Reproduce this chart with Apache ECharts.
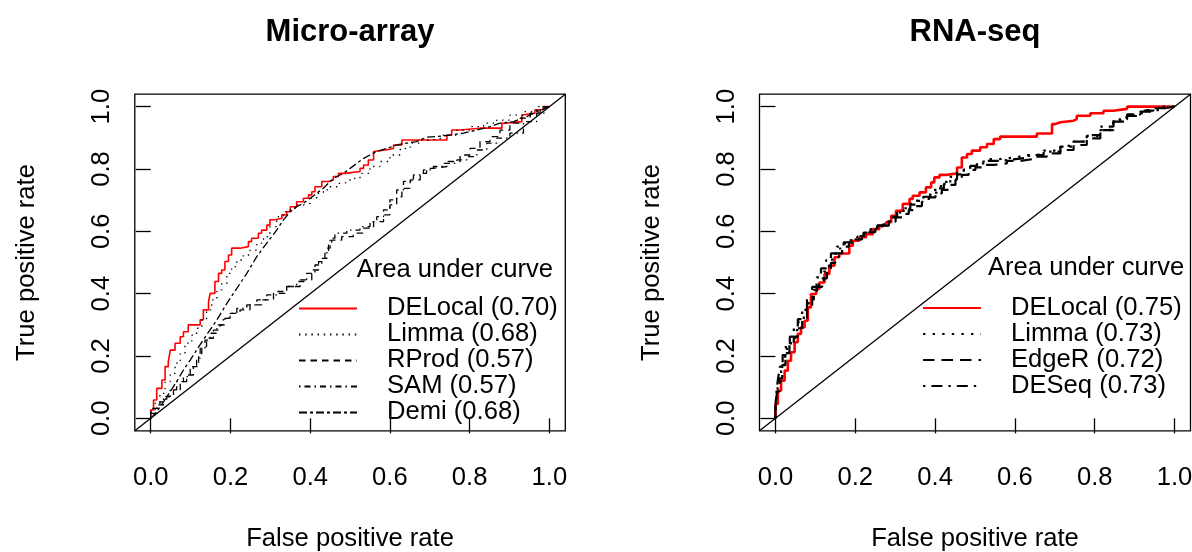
<!DOCTYPE html>
<html>
<head>
<meta charset="utf-8">
<script src="https://cdn.jsdelivr.net/npm/echarts@6/dist/echarts.min.js"></script>
<style>
html, body { margin: 0; padding: 0; background: #fff; }
#chart { width: 1192px; height: 552px; }
</style>
</head>
<body>
<div id="chart"></div>
<script>
// ---- axis settings -------------------------------------------------------
const axisTicks = [0, 0.2, 0.4, 0.6, 0.8, 1.0];
const axisRange = [-0.04, 1.04];
const panelTitles = ['Micro-array', 'RNA-seq'];
const xAxisName = 'False positive rate';
const yAxisName = 'True positive rate';
const legendHeading = 'Area under curve';

// ---- Micro-array ROC curves: [false positive rate, true positive rate] ----
const microDELocal = [[0,0],[0.007,0.027],[0.015,0.059],[0.028,0.096],[0.036,0.123],[0.044,0.166],[0.049,0.182],[0.061,0.219],[0.074,0.241],[0.082,0.262],[0.094,0.278],[0.107,0.300],[0.124,0.300],[0.132,0.316],[0.145,0.348],[0.149,0.374],[0.161,0.401],[0.170,0.439],[0.178,0.465],[0.186,0.476],[0.195,0.503],[0.203,0.524],[0.224,0.546],[0.245,0.551],[0.253,0.567],[0.270,0.578],[0.278,0.594],[0.291,0.604],[0.299,0.620],[0.312,0.637],[0.329,0.642],[0.341,0.653],[0.350,0.663],[0.366,0.679],[0.383,0.695],[0.396,0.706],[0.404,0.717],[0.412,0.727],[0.429,0.743],[0.446,0.760],[0.458,0.765],[0.471,0.776],[0.488,0.786],[0.525,0.792],[0.534,0.802],[0.546,0.813],[0.559,0.829],[0.563,0.856],[0.588,0.861],[0.609,0.866],[0.630,0.877],[0.667,0.893],[0.743,0.893],[0.755,0.909],[0.776,0.925],[0.826,0.931],[0.881,0.931],[0.889,0.947],[0.931,0.952],[0.935,0.973],[0.964,0.979],[0.985,0.990],[1,1]];

const microLimma = [[0,0],[0.011,0.021],[0.023,0.048],[0.036,0.080],[0.049,0.118],[0.061,0.144],[0.074,0.177],[0.086,0.209],[0.103,0.241],[0.115,0.267],[0.128,0.289],[0.140,0.316],[0.153,0.348],[0.166,0.380],[0.178,0.412],[0.191,0.433],[0.203,0.465],[0.216,0.487],[0.232,0.508],[0.249,0.524],[0.266,0.540],[0.283,0.562],[0.299,0.583],[0.316,0.615],[0.333,0.647],[0.350,0.663],[0.366,0.674],[0.383,0.685],[0.400,0.690],[0.416,0.706],[0.433,0.722],[0.450,0.733],[0.467,0.743],[0.483,0.754],[0.500,0.760],[0.525,0.770],[0.550,0.786],[0.575,0.808],[0.600,0.824],[0.626,0.845],[0.651,0.866],[0.676,0.883],[0.701,0.893],[0.734,0.899],[0.768,0.909],[0.801,0.925],[0.835,0.936],[0.868,0.947],[0.901,0.957],[0.935,0.973],[0.968,0.984],[1,1]];

const microRProd = [[0,0],[0.023,0.032],[0.040,0.053],[0.057,0.070],[0.074,0.091],[0.090,0.118],[0.107,0.139],[0.120,0.166],[0.128,0.198],[0.140,0.230],[0.157,0.257],[0.174,0.283],[0.186,0.300],[0.199,0.321],[0.224,0.337],[0.249,0.348],[0.278,0.364],[0.308,0.380],[0.341,0.401],[0.375,0.423],[0.404,0.444],[0.421,0.476],[0.437,0.503],[0.446,0.530],[0.454,0.562],[0.479,0.572],[0.508,0.583],[0.534,0.594],[0.559,0.610],[0.584,0.631],[0.600,0.653],[0.617,0.685],[0.630,0.711],[0.651,0.738],[0.676,0.765],[0.692,0.786],[0.709,0.802],[0.743,0.808],[0.776,0.824],[0.801,0.845],[0.826,0.866],[0.851,0.888],[0.876,0.904],[0.901,0.925],[0.927,0.947],[0.952,0.963],[0.977,0.979],[1,1]];

const microSAM = [[0,0],[0.015,0.016],[0.032,0.043],[0.049,0.070],[0.065,0.091],[0.082,0.118],[0.099,0.134],[0.115,0.166],[0.124,0.193],[0.136,0.225],[0.149,0.251],[0.166,0.273],[0.182,0.300],[0.199,0.321],[0.216,0.337],[0.241,0.353],[0.266,0.364],[0.291,0.380],[0.316,0.396],[0.341,0.407],[0.366,0.423],[0.391,0.439],[0.412,0.465],[0.429,0.492],[0.442,0.513],[0.450,0.546],[0.462,0.578],[0.492,0.594],[0.525,0.604],[0.550,0.615],[0.567,0.631],[0.584,0.647],[0.600,0.669],[0.617,0.701],[0.634,0.733],[0.659,0.760],[0.684,0.781],[0.709,0.797],[0.734,0.808],[0.768,0.818],[0.793,0.829],[0.818,0.840],[0.843,0.861],[0.868,0.883],[0.901,0.899],[0.935,0.915],[0.968,0.952],[0.989,0.979],[1,1]];

const microDemi = [[0,0],[0.015,0.021],[0.032,0.053],[0.049,0.086],[0.065,0.118],[0.082,0.155],[0.099,0.187],[0.115,0.219],[0.140,0.267],[0.166,0.316],[0.191,0.369],[0.216,0.417],[0.241,0.465],[0.266,0.519],[0.291,0.562],[0.316,0.604],[0.333,0.637],[0.350,0.663],[0.366,0.679],[0.383,0.690],[0.400,0.706],[0.416,0.722],[0.433,0.738],[0.450,0.760],[0.467,0.776],[0.483,0.786],[0.500,0.802],[0.517,0.818],[0.534,0.834],[0.550,0.845],[0.567,0.856],[0.592,0.866],[0.617,0.877],[0.642,0.883],[0.667,0.888],[0.692,0.902],[0.718,0.904],[0.751,0.909],[0.784,0.915],[0.818,0.925],[0.851,0.936],[0.876,0.947],[0.910,0.952],[0.943,0.968],[0.968,0.984],[1,1]];

// ---- RNA-seq ROC curves ---------------------------------------------------
const rnaDELocal = [[0,0],[0.006,0.046],[0.014,0.089],[0.023,0.121],[0.031,0.153],[0.039,0.185],[0.048,0.212],[0.056,0.244],[0.064,0.271],[0.073,0.292],[0.081,0.313],[0.089,0.356],[0.089,0.388],[0.102,0.399],[0.110,0.415],[0.123,0.436],[0.135,0.463],[0.148,0.490],[0.160,0.517],[0.169,0.529],[0.185,0.529],[0.194,0.554],[0.210,0.570],[0.227,0.581],[0.244,0.591],[0.260,0.607],[0.277,0.618],[0.290,0.629],[0.302,0.650],[0.319,0.666],[0.336,0.688],[0.344,0.704],[0.361,0.714],[0.377,0.725],[0.390,0.741],[0.398,0.757],[0.411,0.773],[0.427,0.781],[0.455,0.786],[0.467,0.805],[0.480,0.837],[0.492,0.848],[0.513,0.859],[0.530,0.870],[0.547,0.880],[0.563,0.896],[0.576,0.904],[0.655,0.904],[0.659,0.914],[0.693,0.914],[0.701,0.944],[0.714,0.950],[0.747,0.955],[0.755,0.960],[0.789,0.971],[0.822,0.979],[0.847,0.987],[0.881,0.993],[0.889,1],[1,1]];

const rnaLimma = [[0,0],[0.003,0.032],[0.008,0.075],[0.014,0.118],[0.021,0.160],[0.029,0.198],[0.039,0.230],[0.050,0.257],[0.058,0.283],[0.071,0.310],[0.083,0.348],[0.096,0.380],[0.109,0.412],[0.121,0.439],[0.134,0.471],[0.142,0.497],[0.159,0.519],[0.171,0.545],[0.188,0.561],[0.205,0.572],[0.221,0.583],[0.238,0.594],[0.255,0.606],[0.271,0.618],[0.288,0.631],[0.305,0.647],[0.321,0.661],[0.338,0.674],[0.355,0.688],[0.371,0.703],[0.388,0.717],[0.405,0.733],[0.422,0.745],[0.438,0.759],[0.455,0.775],[0.472,0.788],[0.488,0.805],[0.505,0.813],[0.530,0.824],[0.563,0.832],[0.597,0.837],[0.630,0.842],[0.672,0.848],[0.714,0.859],[0.747,0.874],[0.780,0.888],[0.814,0.906],[0.839,0.925],[0.864,0.947],[0.897,0.966],[0.931,0.979],[0.964,0.989],[1,1]];

const rnaEdgeR = [[0,0],[0.004,0.043],[0.010,0.086],[0.017,0.128],[0.025,0.171],[0.035,0.209],[0.046,0.235],[0.056,0.262],[0.067,0.289],[0.079,0.321],[0.092,0.358],[0.104,0.390],[0.117,0.422],[0.129,0.449],[0.139,0.481],[0.150,0.499],[0.167,0.529],[0.184,0.551],[0.200,0.564],[0.217,0.574],[0.234,0.585],[0.250,0.597],[0.267,0.607],[0.284,0.618],[0.301,0.631],[0.317,0.645],[0.334,0.656],[0.351,0.668],[0.367,0.681],[0.384,0.695],[0.401,0.709],[0.417,0.722],[0.434,0.733],[0.451,0.749],[0.467,0.765],[0.484,0.781],[0.501,0.797],[0.518,0.805],[0.547,0.813],[0.580,0.818],[0.614,0.826],[0.647,0.832],[0.680,0.840],[0.714,0.850],[0.747,0.861],[0.780,0.877],[0.814,0.898],[0.847,0.925],[0.881,0.952],[0.914,0.970],[0.947,0.984],[0.981,0.995],[1,1]];

const rnaDESeq = [[0,0],[0.002,0.037],[0.006,0.080],[0.011,0.123],[0.018,0.166],[0.026,0.203],[0.036,0.235],[0.046,0.262],[0.056,0.289],[0.067,0.318],[0.079,0.348],[0.092,0.385],[0.103,0.422],[0.114,0.452],[0.127,0.481],[0.139,0.508],[0.154,0.529],[0.171,0.551],[0.188,0.565],[0.205,0.574],[0.221,0.585],[0.238,0.596],[0.255,0.607],[0.271,0.619],[0.288,0.632],[0.305,0.645],[0.321,0.660],[0.338,0.673],[0.355,0.686],[0.371,0.698],[0.388,0.711],[0.405,0.724],[0.422,0.738],[0.438,0.752],[0.455,0.767],[0.472,0.783],[0.488,0.799],[0.505,0.810],[0.530,0.818],[0.563,0.826],[0.597,0.831],[0.630,0.836],[0.672,0.845],[0.714,0.856],[0.747,0.872],[0.780,0.888],[0.814,0.909],[0.847,0.936],[0.881,0.959],[0.914,0.975],[0.947,0.987],[0.981,0.996],[1,1]];

// chance diagonal spanning the whole plotting region
const chanceLine = [[axisRange[0], axisRange[0]], [axisRange[1], axisRange[1]]];

// ---- styling ---------------------------------------------------------------
const FONT = '"Liberation Sans", Arial, Helvetica, sans-serif';
const TXT = 25.6;

const panels = [
  { left: 134.8, top: 94.2, width: 430.5, height: 336.6 },
  { left: 759.5, top: 94.2, width: 431.0, height: 336.6 }
];

function grid(p) {
  return {
    left: p.left, top: p.top, width: p.width, height: p.height,
    show: true, borderColor: '#000', borderWidth: 1.3,
    backgroundColor: 'transparent', containLabel: false, outerBoundsMode: 'none'
  };
}

const tickLabel = v => v.toFixed(1);

function xAxis(i) {
  return {
    type: 'value', gridIndex: i, min: axisRange[0], max: axisRange[1],
    name: xAxisName, nameLocation: 'middle', nameGap: 95,
    nameTextStyle: { fontSize: TXT, fontFamily: FONT, color: '#000' },
    axisLine: { show: false },
    axisTick: { show: true, length: 15, customValues: axisTicks, lineStyle: { color: '#000', width: 1.3 } },
    axisLabel: { customValues: axisTicks, formatter: tickLabel, margin: 34,
      fontSize: TXT, fontFamily: FONT, color: '#000' },
    splitLine: { show: false }
  };
}

function yAxis(i) {
  return {
    type: 'value', gridIndex: i, min: axisRange[0], max: axisRange[1],
    name: yAxisName, nameLocation: 'middle', nameGap: 95, nameRotate: 90,
    nameTextStyle: { fontSize: TXT, fontFamily: FONT, color: '#000' },
    axisLine: { show: false },
    axisTick: { show: true, length: 15, customValues: axisTicks, lineStyle: { color: '#000', width: 1.3 } },
    axisLabel: { customValues: axisTicks, formatter: tickLabel, margin: 20, rotate: 90,
      fontSize: TXT, fontFamily: FONT, color: '#000' },
    splitLine: { show: false }
  };
}

function curve(name, data, idx, color, width, dash, step) {
  return {
    type: 'line', name: name, data: data, xAxisIndex: idx, yAxisIndex: idx,
    showSymbol: false, symbol: 'none', step: step, silent: true,
    lineStyle: { color: color, width: width, type: dash, cap: 'butt' },
    itemStyle: { color: color },
    emphasis: { disabled: true }
  };
}

const microNames = ['DELocal (0.70)', 'Limma (0.68)', 'RProd (0.57)', 'SAM (0.57)', 'Demi (0.68)'];
const rnaNames = ['DELocal (0.75)', 'Limma (0.73)', 'EdgeR (0.72)', 'DESeq (0.73)'];

const series = [
  curve(microNames[0], microDELocal, 0, '#ff0000', 1.6, 'solid', 'start'),
  curve(microNames[1], microLimma, 0, '#000', 1.3, [1.4, 4.8], 'start'),
  curve(microNames[2], microRProd, 0, '#000', 1.3, [6.5, 5], 'start'),
  curve(microNames[3], microSAM, 0, '#000', 1.3, [1.5, 4, 6, 4], 'start'),
  curve(microNames[4], microDemi, 0, '#000', 1.3, [8, 3, 3, 3], false),
  curve('chance-micro', chanceLine, 0, '#000', 1.3, 'solid', false),

  curve(rnaNames[0], rnaDELocal, 1, '#ff0000', 2.6, 'solid', 'start'),
  curve(rnaNames[1], rnaLimma, 1, '#000', 2.2, [2.4, 7.2], 'start'),
  curve(rnaNames[2], rnaEdgeR, 1, '#000', 2.2, [11.5, 7], 'start'),
  curve(rnaNames[3], rnaDESeq, 1, '#000', 2.2, [2.4, 6, 11, 6], 'start'),
  curve('chance-rna', chanceLine, 1, '#000', 1.3, 'solid', false)
];

// legend rows: a line sample in each series' own dash, no point marker
function legend(names, left, top) {
  return {
    data: names, orient: 'vertical', left: left, top: top,
    itemWidth: 58, itemHeight: 2, itemGap: 0, padding: 0,
    selectedMode: false,
    itemStyle: { opacity: 0, borderWidth: 0 },
    textStyle: { fontSize: TXT, fontFamily: FONT, color: '#000',
      lineHeight: 25.9, padding: [0, 0, 0, 25] }
  };
}

function heading(x, y) {
  return {
    type: 'text', x: x, y: y, silent: true,
    style: { text: legendHeading, fontSize: TXT, fontFamily: FONT, fill: '#000',
      verticalAlign: 'middle', align: 'left' }
  };
}

const chart = echarts.init(document.getElementById('chart'), null, { renderer: 'canvas' });
chart.setOption({
  animation: false,
  backgroundColor: '#fff',
  title: [
    { text: panelTitles[0], left: 350, top: 17, textAlign: 'center', padding: 0,
      textStyle: { fontSize: 31, fontWeight: 'bold', fontFamily: FONT, color: '#000' } },
    { text: panelTitles[1], left: 975, top: 17, textAlign: 'center', padding: 0,
      textStyle: { fontSize: 31, fontWeight: 'bold', fontFamily: FONT, color: '#000' } }
  ],
  grid: panels.map(grid),
  xAxis: [xAxis(0), xAxis(1)],
  yAxis: [yAxis(0), yAxis(1)],
  legend: [legend(microNames, 298, 295.4), legend(rnaNames, 922, 295)],
  graphic: [heading(356.7, 270), heading(988, 268)],
  series: series
});
</script>
</body>
</html>
